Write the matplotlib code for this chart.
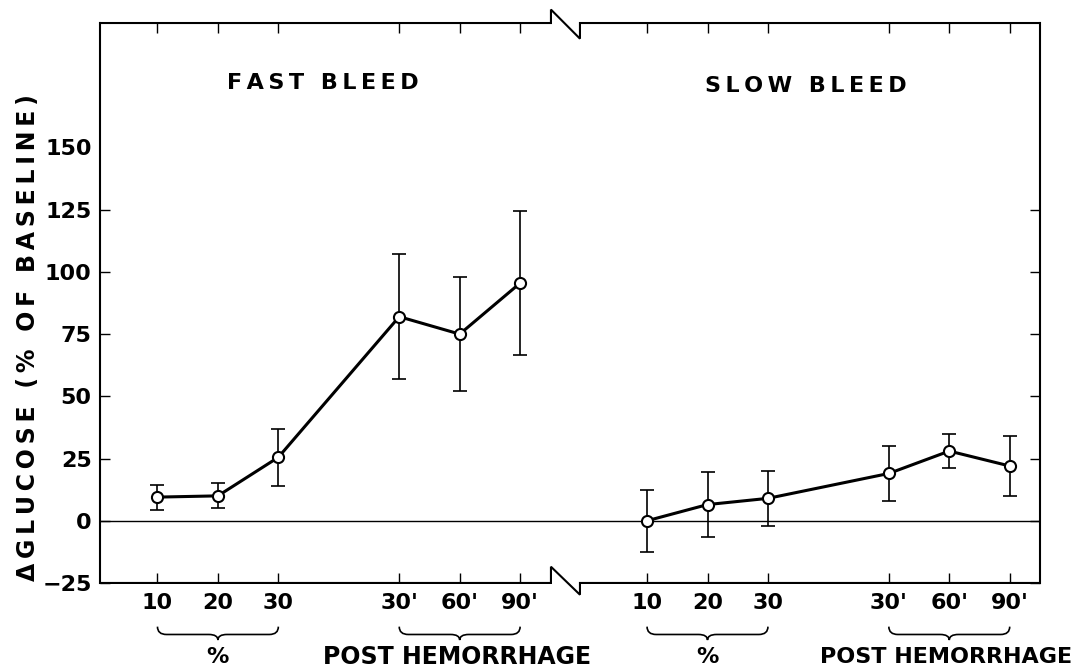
import matplotlib
matplotlib.use('Agg')
import numpy as np
from matplotlib import pyplot as plt
from matplotlib.path import Path
from matplotlib.patches import PathPatch
from matplotlib import transforms

# data
fast_x = [1, 2, 3, 5, 6, 7]
fast_y = [9.5, 10, 25.5, 82, 75, 95.5]
fast_err = [5, 5, 11.5, 25, 23, 29]

slow_x = [9.1, 10.1, 11.1, 13.1, 14.1, 15.1]
slow_y = [0, 6.5, 9, 19, 28, 22]
slow_err = [12.5, 13, 11, 11, 7, 12]

tick_labels = ['10', '20', '30', "30'", "60'", "90'"]
y_ticks = [-25, 0, 25, 50, 75, 100, 125]
y_top_label = 150  # labelled but no tick mark in the original

X_MIN, X_MAX = 0.05, 15.6
Y_MIN, Y_MAX = -25, 200
BREAK_X = 7.51
BREAK_GAP = 0.48

FONT = 'DejaVu Sans'
THIN = '\u2009'


def spaced(s, sep=THIN):
    return sep.join(s)


def ylab(v):
    return str(v).replace('-', '\u2212')


def draw_brace(ax, x0, x1, y_top, y_line, y_tip, w=0.15):
    trans = transforms.blended_transform_factory(ax.transData, ax.transAxes)
    xm = (x0 + x1) / 2.0
    verts = [
        (x0, y_top),
        (x0, y_line), (x0 + w, y_line),
        (xm - w, y_line),
        (xm, y_line), (xm, y_tip),
        (xm, y_line), (xm + w, y_line),
        (x1 - w, y_line),
        (x1, y_line), (x1, y_top),
    ]
    codes = [Path.MOVETO,
             Path.CURVE3, Path.CURVE3,
             Path.LINETO,
             Path.CURVE3, Path.CURVE3,
             Path.CURVE3, Path.CURVE3,
             Path.LINETO,
             Path.CURVE3, Path.CURVE3]
    patch = PathPatch(Path(verts, codes), facecolor='none', edgecolor='black',
                      lw=1.2, transform=trans, clip_on=False)
    ax.add_patch(patch)


def draw_broken_spine(ax, y_axes, up, down):
    # horizontal spine with a zig-zag break, y in axes coords
    trans = transforms.blended_transform_factory(ax.transData, ax.transAxes)
    x2 = BREAK_X + BREAK_GAP
    xs = [X_MIN, BREAK_X, BREAK_X, x2, x2, X_MAX]
    ys = [y_axes, y_axes, y_axes + up, y_axes - down, y_axes, y_axes]
    ax.plot(xs, ys, color='black', lw=1.5, transform=trans, clip_on=False,
            solid_joinstyle='miter')


fig = plt.figure(figsize=(10.78, 6.69), dpi=100)
ax = fig.add_axes([0.0928, 0.1286, 0.8719, 0.837])

ax.axhline(0, color='black', lw=1.0)

for xs, ys, es in [(fast_x, fast_y, fast_err), (slow_x, slow_y, slow_err)]:
    ax.errorbar(xs, ys, yerr=es, fmt='none', ecolor='black', elinewidth=1.2,
                capsize=5, capthick=1.2, zorder=2)
    ax.plot(xs, ys, color='black', lw=2.2, marker='o', markersize=8,
            markerfacecolor='white', markeredgecolor='black',
            markeredgewidth=1.5, zorder=3)

ax.set_xlim(X_MIN, X_MAX)
ax.set_ylim(Y_MIN, Y_MAX)

ax.spines['top'].set_visible(False)
ax.spines['bottom'].set_visible(False)
ax.spines['left'].set_linewidth(1.5)
ax.spines['right'].set_linewidth(1.5)

draw_broken_spine(ax, 1.0, 0.024, 0.028)
draw_broken_spine(ax, 0.0, 0.029, 0.021)

ax.set_xticks(fast_x + slow_x)
ax.set_xticklabels(tick_labels + tick_labels, fontsize=16, fontweight='bold',
                   family=FONT)
ax.set_yticks(y_ticks)
ax.set_yticklabels([ylab(v) for v in y_ticks],
                   fontsize=16, fontweight='bold', family=FONT)
ax.set_yticks([y_top_label], minor=True)
ax.set_yticklabels([ylab(y_top_label)], minor=True,
                   fontsize=16, fontweight='bold', family=FONT)
ax.tick_params(direction='in', length=7, width=1.0, top=True, right=True,
               labelright=False, labeltop=False)
ax.tick_params(axis='y', which='minor', length=0, pad=6)
ax.tick_params(axis='x', pad=7)
ax.tick_params(axis='y', which='major', pad=6)

btrans = transforms.blended_transform_factory(ax.transData, ax.transAxes)

# group titles
ax.text(3.74, 0.893, spaced('FAST BLEED'), transform=btrans,
        ha='center', va='center', fontsize=16, fontweight='bold', family=FONT)
ax.text(11.73, 0.888, spaced('SLOW BLEED'), transform=btrans,
        ha='center', va='center', fontsize=16, fontweight='bold', family=FONT)

# braces and group labels under the axis
for grp in (fast_x, slow_x):
    draw_brace(ax, grp[0], grp[2], -0.078, -0.092, -0.102)
    draw_brace(ax, grp[3], grp[5], -0.078, -0.092, -0.102)
    ax.text(grp[1], -0.132, '%', transform=btrans, ha='center', va='center',
            fontsize=16, fontweight='bold', family=FONT)

ax.text(fast_x[4] - 0.05, -0.132, 'POST HEMORRHAGE', transform=btrans,
        ha='center', va='center', fontsize=17, fontweight='bold', family=FONT)
ax.text(slow_x[4] - 0.05, -0.132, 'POST HEMORRHAGE', transform=btrans,
        ha='center', va='center', fontsize=16, fontweight='bold', family=FONT)

fig.text(0.026, 0.496, spaced('\u0394GLUCOSE (% OF BASELINE)'), rotation=90,
         ha='center', va='center', fontsize=17, fontweight='bold', family=FONT)

fig.savefig('out.png', dpi=100)
